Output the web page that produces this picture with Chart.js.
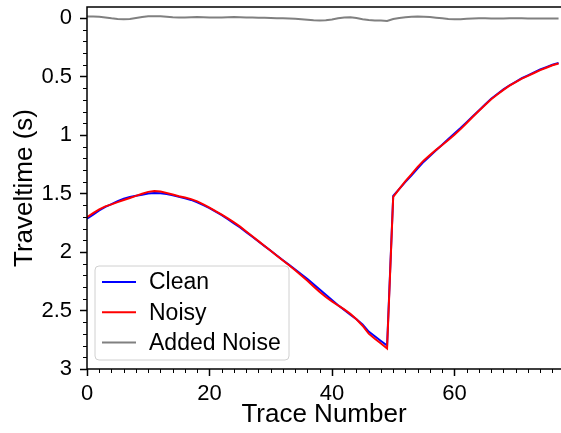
<!DOCTYPE html>
<html>
<head>
<meta charset="utf-8">
<script src="https://cdn.jsdelivr.net/npm/chart.js@4/dist/chart.umd.min.js"></script>
<style>
  html, body { margin: 0; padding: 0; background: #fff; }
  #wrap { width: 561px; height: 433px; }
</style>
</head>
<body>
<div id="wrap"><canvas id="grafico"></canvas></div>
<script>
// trace numbers 0..77
const traces = Array.from({ length: 78 }, (_, i) => i);

const clean = [
  1.715, 1.68, 1.645, 1.615, 1.59, 1.565, 1.545, 1.53, 1.52, 1.51,
  1.50, 1.495, 1.497, 1.505, 1.515, 1.527, 1.54, 1.555, 1.575, 1.60,
  1.625, 1.655, 1.685, 1.72, 1.755, 1.79, 1.83, 1.87, 1.91, 1.95,
  1.99, 2.03, 2.07, 2.11, 2.15, 2.19, 2.23, 2.275, 2.32, 2.365,
  2.41, 2.455, 2.495, 2.535, 2.575, 2.62, 2.68, 2.72, 2.76, 2.80,
  1.52, 1.46, 1.40, 1.345, 1.285, 1.228, 1.18, 1.13, 1.083, 1.035,
  0.987, 0.94, 0.89, 0.84, 0.79, 0.74, 0.69, 0.65, 0.61, 0.575,
  0.545, 0.515, 0.49, 0.465, 0.44, 0.42, 0.40, 0.385
];

const noisy = [
  1.703, 1.668, 1.635, 1.610, 1.593, 1.574, 1.556, 1.538, 1.520, 1.502,
  1.486, 1.479, 1.483, 1.495, 1.509, 1.523, 1.535, 1.548, 1.567, 1.593,
  1.620, 1.651, 1.680, 1.713, 1.747, 1.783, 1.825, 1.866, 1.907, 1.948,
  1.990, 2.032, 2.073, 2.114, 2.156, 2.200, 2.245, 2.295, 2.342, 2.385,
  2.422, 2.457, 2.490, 2.529, 2.575, 2.630, 2.698, 2.742, 2.782, 2.825,
  1.528, 1.460, 1.394, 1.335, 1.273, 1.217, 1.172, 1.127, 1.086, 1.043,
  0.998, 0.950, 0.897, 0.844, 0.793, 0.743, 0.694, 0.654, 0.614, 0.578,
  0.548, 0.518, 0.494, 0.470, 0.445, 0.425, 0.404, 0.389
];

const addedNoise = [
  -0.012, -0.012, -0.010, -0.005, 0.003, 0.009, 0.011, 0.008, 0.000, -0.008,
  -0.014, -0.016, -0.014, -0.010, -0.006, -0.004, -0.005, -0.007, -0.008, -0.007,
  -0.005, -0.004, -0.005, -0.007, -0.008, -0.007, -0.005, -0.004, -0.003, -0.002,
  0.000, 0.002, 0.003, 0.004, 0.006, 0.010, 0.015, 0.020, 0.022, 0.020,
  0.012, 0.002, -0.005, -0.006, 0.000, 0.010, 0.018, 0.022, 0.022, 0.025,
  0.008, 0.000, -0.006, -0.010, -0.012, -0.011, -0.008, -0.003, 0.003, 0.008,
  0.011, 0.010, 0.007, 0.004, 0.003, 0.003, 0.004, 0.004, 0.004, 0.003,
  0.003, 0.003, 0.004, 0.005, 0.005, 0.005, 0.004, 0.004
];

const xTicks = [0, 20, 40, 60];
const yTicks = [0, 0.5, 1, 1.5, 2, 2.5, 3];

const FONTE = "'Liberation Sans', Arial, sans-serif";

const toPts = (arr) => arr.map((v, i) => ({ x: traces[i], y: v }));

// spines, major/minor ticks and the boxed legend, drawn on the library's scales
const molduraPlugin = {
  id: 'moldura',
  afterDraw(chart) {
    const { ctx, chartArea: a, scales: { x, y } } = chart;
    ctx.save();
    ctx.strokeStyle = '#000';

    // ticks on y (every 0.1, major every 0.5)
    for (let i = 0; i <= 30; i++) {
      const py = Math.round(y.getPixelForValue(i / 10)) + 0.5;
      const major = i % 5 === 0;
      ctx.lineWidth = major ? 1.5 : 1;
      ctx.beginPath();
      ctx.moveTo(a.left, py);
      ctx.lineTo(a.left - (major ? 7 : 4), py);
      ctx.stroke();
    }
    // ticks on x (every 2, major every 20)
    for (let v = 0; v <= x.max; v += 2) {
      const px = Math.round(x.getPixelForValue(v)) + 0.5;
      const major = v % 20 === 0;
      ctx.lineWidth = major ? 1.5 : 1;
      ctx.beginPath();
      ctx.moveTo(px, a.bottom);
      ctx.lineTo(px, a.bottom + (major ? 7 : 4));
      ctx.stroke();
    }

    // spines
    ctx.lineWidth = 1.5;
    ctx.beginPath();
    ctx.moveTo(a.right, a.top);
    ctx.lineTo(a.left, a.top);
    ctx.lineTo(a.left, a.bottom);
    ctx.lineTo(a.right, a.bottom);
    ctx.stroke();

    // legend
    const bx = 95, by = 266, bw = 194, bh = 94;
    ctx.beginPath();
    ctx.roundRect(bx, by, bw, bh, 4);
    ctx.fillStyle = 'rgba(255,255,255,0.8)';
    ctx.fill();
    ctx.lineWidth = 1;
    ctx.strokeStyle = '#d0d0d0';
    ctx.stroke();

    ctx.font = `23px ${FONTE}`;
    ctx.textBaseline = 'middle';
    ctx.textAlign = 'left';
    chart.data.datasets.forEach((ds, i) => {
      const ly = 282 + i * 30.3;
      ctx.strokeStyle = ds.borderColor;
      ctx.lineWidth = 2;
      ctx.beginPath();
      ctx.moveTo(102, ly);
      ctx.lineTo(136, ly);
      ctx.stroke();
      ctx.fillStyle = '#000';
      ctx.fillText(ds.label, 149, ly + 1);
    });
    ctx.restore();
  }
};

new Chart(document.getElementById('grafico'), {
  type: 'line',
  data: {
    datasets: [
      { label: 'Clean', data: toPts(clean), borderColor: '#0000ff', order: 2 },
      { label: 'Noisy', data: toPts(noisy), borderColor: '#ff0000', order: 1 },
      { label: 'Added Noise', data: toPts(addedNoise), borderColor: '#808080', order: 0 }
    ]
  },
  options: {
    responsive: true,
    maintainAspectRatio: false,
    animation: false,
    devicePixelRatio: 1,
    layout: { padding: { top: 7, right: 0, bottom: 0, left: 0 } },
    elements: {
      line: { borderWidth: 2, tension: 0 },
      point: { radius: 0 }
    },
    plugins: { legend: { display: false }, tooltip: { enabled: false } },
    scales: {
      x: {
        type: 'linear',
        min: 0,
        max: 77.4,
        grid: { display: false, drawTicks: false },
        border: { display: false },
        afterBuildTicks: (s) => { s.ticks = xTicks.map(v => ({ value: v })); },
        afterFit: (s) => { s.height = 64; s.paddingLeft = 0; s.paddingRight = 0; },
        ticks: {
          color: '#000',
          padding: 12,
          maxRotation: 0,
          font: { family: FONTE, size: 22 }
        },
        title: {
          display: true,
          text: 'Trace Number',
          color: '#000',
          font: { family: FONTE, size: 26 },
          padding: { top: 0, bottom: 3 }
        }
      },
      y: {
        type: 'linear',
        reverse: true,
        min: -0.094,
        max: 3,
        grid: { display: false, drawTicks: false },
        border: { display: false },
        afterBuildTicks: (s) => { s.ticks = yTicks.map(v => ({ value: v })); },
        afterFit: (s) => { s.width = 87; s.paddingTop = 0; s.paddingBottom = 0; },
        ticks: {
          color: '#000',
          padding: 15,
          callback: (v) => String(v),
          font: { family: FONTE, size: 22 }
        },
        title: {
          display: true,
          text: 'Traveltime (s)',
          color: '#000',
          font: { family: FONTE, size: 26 },
          padding: { top: 9, bottom: 0 }
        }
      }
    }
  },
  plugins: [molduraPlugin]
});
</script>
</body>
</html>
